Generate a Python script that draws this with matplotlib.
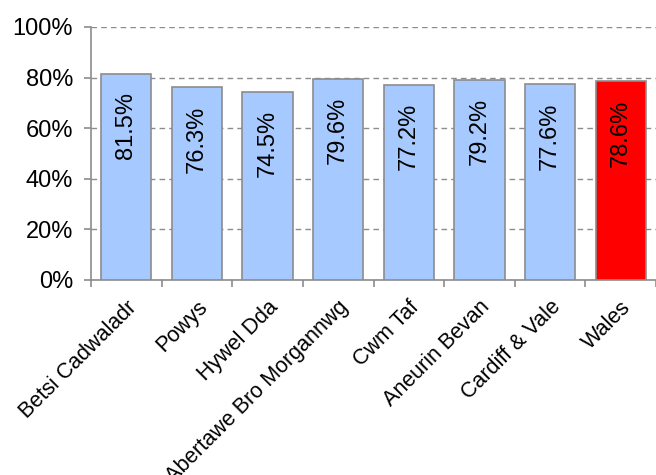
import numpy as np
import matplotlib.pyplot as plt
from matplotlib.ticker import PercentFormatter

plt.rcParams['font.family'] = ['Liberation Sans', 'DejaVu Sans']

boards = ["Betsi Cadwaladr", "Powys", "Hywel Dda", "Abertawe Bro Morgannwg",
          "Cwm Taf", "Aneurin Bevan", "Cardiff & Vale", "Wales"]
values = [81.5, 76.3, 74.5, 79.6, 77.2, 79.2, 77.6, 78.6]
colors = ["#a6caff"] * 7 + ["#ff0000"]

fig = plt.figure(figsize=(6.56, 4.75), dpi=100)
ax = fig.add_axes([91 / 656, 1 - 280 / 475, 565 / 656, 253 / 475])

x = np.arange(len(boards))
ax.bar(x, values, width=0.71, color=colors, edgecolor="#8c8c8c", linewidth=1.2, zorder=3)

# value labels written vertically inside the top of each bar
for xi, v in zip(x, values):
    ax.text(xi, v - 7.3, f"{v:.1f}%", rotation=90, ha="center", va="top",
            fontsize=17, color="black", zorder=4)

ax.set_xlim(-0.5, len(boards) - 0.5)
ax.set_ylim(0, 100)
ax.set_yticks(np.arange(0, 101, 20))
ax.yaxis.set_major_formatter(PercentFormatter(decimals=0))
ax.yaxis.grid(True, linestyle=(0, (4, 3)), color="#8c8c8c", linewidth=1.0, zorder=0)

# tick marks between categories, labels at bar centres
ax.set_xticks(np.arange(len(boards) + 1) - 0.5, minor=False)
ax.set_xticklabels([])
ax.set_xticks(x, minor=True)
ax.set_xticklabels(boards, minor=True, rotation=45, ha="right", rotation_mode="anchor",
                   fontsize=15.5)
ax.tick_params(axis="x", which="minor", length=0, pad=12)
ax.tick_params(axis="x", which="major", length=5, color="#8c8c8c", width=1.2)
ax.tick_params(axis="y", length=5, color="#8c8c8c", width=1.2, labelsize=17, pad=8)

for side in ["top", "right"]:
    ax.spines[side].set_visible(False)
for side in ["left", "bottom"]:
    ax.spines[side].set_color("#8c8c8c")
    ax.spines[side].set_linewidth(1.2)

fig.savefig("out.png", dpi=100)
